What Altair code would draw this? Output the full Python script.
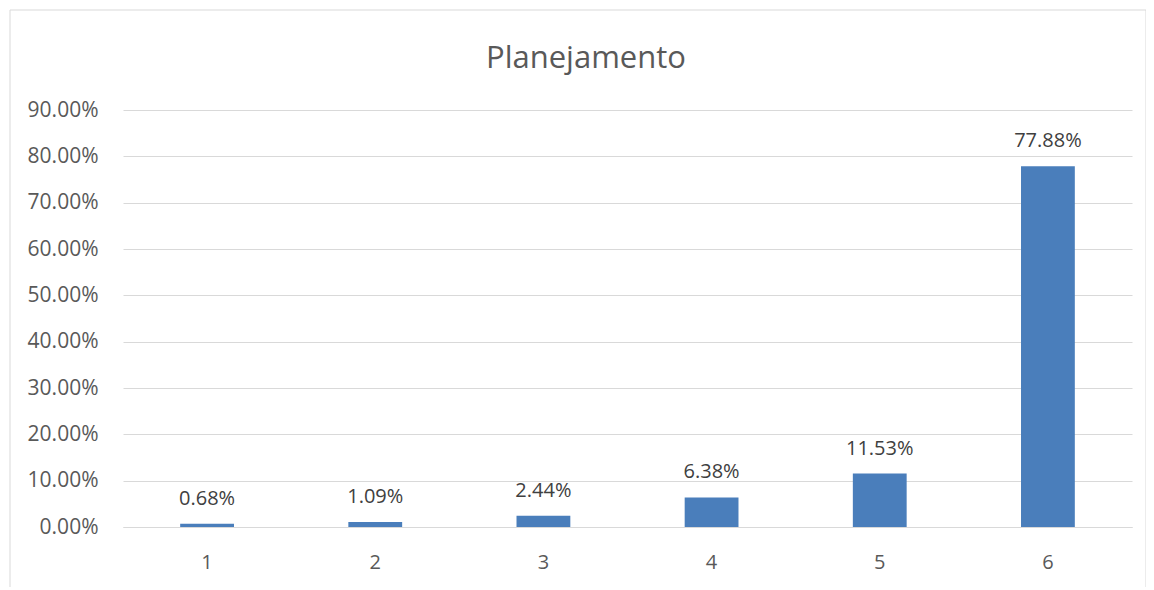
import altair as alt
import pandas as pd

categories = ["1", "2", "3", "4", "5", "6"]
values = [0.0068, 0.0109, 0.0244, 0.0638, 0.1153, 0.7788]
labels = ["0.68%", "1.09%", "2.44%", "6.38%", "11.53%", "77.88%"]
title_text = "Planejamento"

df = pd.DataFrame({"cat": categories, "val": values, "lab": labels})

FONT = "Open Sans"
W, H = 1009, 417

x = alt.X("cat:N", sort=categories, title=None,
          scale=alt.Scale(paddingInner=0.68, paddingOuter=0.34),
          axis=alt.Axis(labelAngle=0, ticks=False, domain=True, domainColor="#d9d9d9",
                        labelFont=FONT, labelFontSize=20, labelColor="#595959",
                        labelPadding=25, grid=False))
y = alt.Y("val:Q", title=None,
          scale=alt.Scale(domain=[0, 0.9], nice=False),
          axis=alt.Axis(format=".2%", values=[i / 10 for i in range(10)], ticks=False,
                        domain=False, gridColor="#d9d9d9", gridWidth=1,
                        labelFont=FONT, labelFontSize=21, labelColor="#595959",
                        labelPadding=25))

base = alt.Chart(df)

frame = base.mark_rect(fillOpacity=0, stroke="#d9d9d9", strokeWidth=1, clip=False).encode(
    x=alt.value(-113), x2=alt.value(1023), y=alt.value(-100), y2=alt.value(478)
).transform_filter(alt.datum.cat == "1")

title = base.mark_text(font=FONT, fontSize=31, color="#595959", baseline="alphabetic",
                       align="center").encode(
    x=alt.value(463), y=alt.value(-42), text=alt.value(title_text)
).transform_filter(alt.datum.cat == "1")

bars = base.mark_bar(color="#4a7ebb").encode(x=x, y=y)

text = base.mark_text(dy=-19, baseline="alphabetic", font=FONT, fontSize=20, color="#404040").encode(
    x=alt.X("cat:N", sort=categories), y="val:Q", text="lab:N")

chart = alt.layer(bars, text, frame, title).properties(
    width=W, height=H,
    autosize=alt.AutoSizeParams(type="none"),
    padding={"left": 115, "top": 102, "right": 14, "bottom": 60},
).configure_view(stroke=None)

chart.save("out.html", embed_options={"renderer": "svg", "actions": False})
